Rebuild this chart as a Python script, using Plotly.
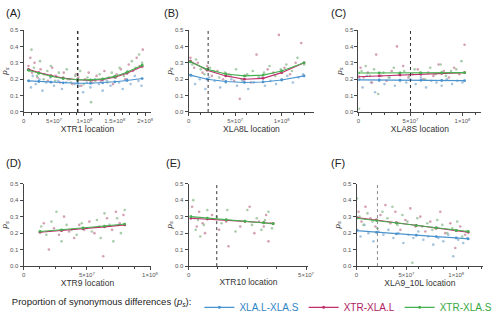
import plotly.graph_objects as go

# ---------------- data (x in Mb) ----------------
A_blue_x = [9, 12, 15, 20, 26, 31, 37, 44, 50, 57, 63, 70, 76, 84, 88, 92, 98, 104, 110, 117, 124, 130, 137, 143, 150, 157, 163, 170, 176, 183, 189, 194]
A_blue_y = [0.19, 0.15, 0.22, 0.17, 0.20, 0.13, 0.18, 0.21, 0.16, 0.19, 0.14, 0.18, 0.20, 0.17, 0.19, 0.16, 0.12, 0.18, 0.15, 0.20, 0.17, 0.13, 0.19, 0.16, 0.21, 0.18, 0.14, 0.20, 0.17, 0.22, 0.19, 0.16]
A_mag_x = [8, 11, 14, 18, 23, 28, 34, 40, 47, 53, 60, 66, 73, 80, 86, 90, 95, 101, 107, 113, 120, 127, 133, 140, 147, 153, 160, 167, 173, 180, 186, 191, 196]
A_mag_y = [0.28, 0.33, 0.24, 0.30, 0.21, 0.26, 0.23, 0.19, 0.27, 0.22, 0.18, 0.24, 0.20, 0.17, 0.23, 0.21, 0.16, 0.20, 0.24, 0.18, 0.22, 0.19, 0.25, 0.21, 0.17, 0.23, 0.26, 0.20, 0.29, 0.25, 0.33, 0.28, 0.38]
A_grn_x = [10, 13, 17, 22, 27, 33, 39, 45, 52, 58, 65, 71, 78, 85, 89, 93, 99, 105, 111, 118, 125, 132, 138, 145, 152, 158, 165, 171, 178, 184, 190, 195]
A_grn_y = [0.25, 0.38, 0.27, 0.22, 0.31, 0.20, 0.25, 0.28, 0.19, 0.24, 0.21, 0.26, 0.18, 0.22, 0.20, 0.25, 0.17, 0.21, 0.06, 0.19, 0.23, 0.20, 0.18, 0.24, 0.21, 0.27, 0.22, 0.25, 0.31, 0.27, 0.35, 0.30]

B_blue_x = [3, 7, 12, 18, 22, 28, 34, 40, 46, 52, 58, 64, 70, 76, 82, 88, 94, 100, 106, 112, 118, 123]
B_blue_y = [0.22, 0.17, 0.20, 0.14, 0.21, 0.19, 0.15, 0.18, 0.20, 0.16, 0.19, 0.14, 0.18, 0.21, 0.16, 0.19, 0.17, 0.20, 0.22, 0.18, 0.21, 0.23]
B_mag_x = [2, 6, 10, 15, 20, 25, 31, 37, 43, 49, 55, 61, 67, 73, 79, 85, 91, 97, 103, 109, 115, 121]
B_mag_y = [0.33, 0.27, 0.30, 0.24, 0.28, 0.22, 0.25, 0.20, 0.23, 0.19, 0.08, 0.22, 0.18, 0.35, 0.21, 0.26, 0.24, 0.47, 0.27, 0.23, 0.30, 0.42]
B_grn_x = [4, 8, 13, 17, 23, 27, 33, 39, 45, 51, 57, 63, 69, 75, 81, 87, 93, 99, 105, 111, 117, 124]
B_grn_y = [0.29, 0.32, 0.26, 0.23, 0.27, 0.25, 0.21, 0.24, 0.22, 0.26, 0.20, 0.23, 0.25, 0.21, 0.24, 0.28, 0.22, 0.26, 0.29, 0.25, 0.33, 0.29]

C_blue_x = [1, 4, 8, 12, 16, 20, 25, 30, 35, 40, 46, 50, 55, 60, 65, 70, 75, 80, 85, 90, 95, 100]
C_blue_y = [0.20, 0.15, 0.22, 0.18, 0.12, 0.19, 0.17, 0.21, 0.16, 0.19, 0.18, 0.20, 0.17, 0.21, 0.15, 0.19, 0.18, 0.16, 0.20, 0.17, 0.19, 0.18]
C_mag_x = [2, 5, 9, 13, 17, 22, 27, 32, 37, 43, 48, 52, 57, 62, 67, 72, 77, 82, 87, 92, 97, 102]
C_mag_y = [0.27, 0.21, 0.24, 0.18, 0.35, 0.22, 0.19, 0.25, 0.40, 0.28, 0.21, 0.23, 0.26, 0.20, 0.24, 0.22, 0.29, 0.25, 0.21, 0.27, 0.23, 0.41]
C_grn_x = [0.5, 3, 7, 11, 15, 19, 24, 29, 34, 39, 44, 49, 54, 59, 64, 69, 74, 79, 84, 89, 94, 99]
C_grn_y = [0.02, 0.25, 0.28, 0.22, 0.26, 0.11, 0.24, 0.21, 0.27, 0.23, 0.25, 0.22, 0.26, 0.24, 0.20, 0.27, 0.23, 0.29, 0.22, 0.25, 0.26, 0.31]

D_mag_x = [13, 16, 20, 24, 28, 32, 36, 40, 44, 48, 52, 56, 60, 63, 66, 70, 73, 76, 79]
D_mag_y = [0.21, 0.26, 0.10, 0.23, 0.19, 0.30, 0.21, 0.17, 0.25, 0.22, 0.27, 0.20, 0.24, 0.06, 0.29, 0.22, 0.33, 0.26, 0.31]
D_grn_x = [14, 18, 22, 26, 30, 34, 38, 42, 46, 50, 54, 58, 61, 64, 68, 71, 74, 77, 80]
D_grn_y = [0.24, 0.19, 0.27, 0.33, 0.15, 0.25, 0.22, 0.19, 0.26, 0.23, 0.21, 0.28, 0.17, 0.32, 0.25, 0.15, 0.29, 0.20, 0.34]

E_mag_x = [1.5, 2.5, 3.5, 4.5, 6, 7, 10, 13, 16, 17, 22, 26, 28, 30, 32, 33, 34, 35]
E_mag_y = [0.36, 0.29, 0.24, 0.33, 0.26, 0.20, 0.31, 0.22, 0.27, 0.12, 0.24, 0.36, 0.20, 0.27, 0.24, 0.31, 0.15, 0.26]
E_grn_x = [1, 2, 3, 4, 5, 6.5, 8, 12, 14, 16.5, 20, 25, 27, 29, 31, 32.5, 34, 35.5]
E_grn_y = [0.30, 0.40, 0.22, 0.28, 0.18, 0.25, 0.34, 0.30, 0.26, 0.34, 0.21, 0.34, 0.25, 0.29, 0.22, 0.28, 0.33, 0.23]

F_blue_x = [1, 4, 8, 12, 17, 22, 27, 32, 37, 42, 47, 52, 57, 62, 67, 72, 77, 82, 87, 92, 97, 102, 107, 111]
F_blue_y = [0.22, 0.18, 0.25, 0.20, 0.15, 0.21, 0.19, 0.22, 0.17, 0.20, 0.14, 0.19, 0.17, 0.21, 0.16, 0.18, 0.13, 0.17, 0.15, 0.19, 0.06, 0.16, 0.14, 0.17]
F_mag_x = [2, 5, 9, 14, 19, 24, 29, 34, 39, 44, 49, 54, 59, 64, 69, 74, 79, 84, 89, 94, 99, 104, 109]
F_mag_y = [0.33, 0.27, 0.36, 0.29, 0.24, 0.31, 0.37, 0.26, 0.33, 0.22, 0.28, 0.35, 0.24, 0.30, 0.21, 0.27, 0.23, 0.33, 0.20, 0.26, 0.11, 0.24, 0.19]
F_grn_x = [0.5, 3, 7, 11, 16, 21, 26, 31, 36, 41, 46, 51, 56, 61, 66, 71, 76, 81, 86, 91, 96, 101, 106, 110]
F_grn_y = [0.41, 0.30, 0.25, 0.32, 0.27, 0.23, 0.33, 0.29, 0.36, 0.25, 0.31, 0.27, 0.02, 0.29, 0.24, 0.26, 0.22, 0.28, 0.25, 0.20, 0.23, 0.27, 0.18, 0.21]

# trend curves
A_fit_x = [8, 25, 45, 65, 89, 110, 130, 150, 170, 195]
A_fit_blue = [0.19, 0.186, 0.182, 0.178, 0.175, 0.175, 0.178, 0.184, 0.192, 0.204]
A_fit_mag = [0.26, 0.24, 0.222, 0.207, 0.197, 0.193, 0.198, 0.212, 0.236, 0.278]
A_fit_grn = [0.255, 0.236, 0.218, 0.204, 0.197, 0.196, 0.202, 0.217, 0.242, 0.285]

B_fit_x = [2, 20, 40, 60, 80, 100, 124]
B_fit_blue = [0.225, 0.2, 0.186, 0.18, 0.183, 0.195, 0.22]
B_fit_mag = [0.31, 0.255, 0.22, 0.2, 0.205, 0.24, 0.30]
B_fit_grn = [0.305, 0.26, 0.232, 0.22, 0.225, 0.25, 0.30]

C_fit_x = [0, 20, 40, 60, 80, 102]
C_fit_blue = [0.196, 0.195, 0.194, 0.193, 0.192, 0.191]
C_fit_mag = [0.215, 0.22, 0.225, 0.23, 0.235, 0.24]
C_fit_grn = [0.238, 0.238, 0.239, 0.239, 0.24, 0.24]

D_fit_x = [13, 30, 47, 64, 80]
D_fit_mag = [0.205, 0.215, 0.226, 0.238, 0.25]
D_fit_grn = [0.21, 0.22, 0.231, 0.243, 0.255]

E_fit_x = [1, 8, 16, 24, 32, 36]
E_fit_mag = [0.29, 0.285, 0.279, 0.271, 0.263, 0.258]
E_fit_grn = [0.30, 0.291, 0.281, 0.272, 0.263, 0.257]

F_fit_x = [0, 20, 40, 60, 80, 100, 112]
F_fit_blue = [0.215, 0.205, 0.196, 0.187, 0.179, 0.171, 0.165]
F_fit_mag = [0.295, 0.28, 0.263, 0.247, 0.231, 0.215, 0.205]
F_fit_grn = [0.29, 0.276, 0.261, 0.246, 0.231, 0.216, 0.21]

centromeres = {"A": 89, "B": 21, "C": 50, "E": 12, "F": 21}

panels = ["A", "B", "C", "D", "E", "F"]
x_titles = ["XTR1 location", "XLA8L location", "XLA8S location",
            "XTR9 location", "XTR10 location", "XLA9_10L location"]
x_ranges = [[0, 210], [0, 135], [0, 118], [0, 101], [0, 51], [0, 127]]
x_tickvals = [[0, 50, 100, 150, 200], [0, 50, 100], [0, 50, 100], [0, 50, 100], [0, 50], [0, 50, 100]]
tick_map = {0: "0", 50: "5×10<sup>7</sup>", 100: "1×10<sup>8</sup>",
            150: "1.5×10<sup>8</sup>", 200: "2×10<sup>8</sup>"}
x_domains = [[0.044, 0.304], [0.38, 0.636], [0.726, 0.976],
             [0.044, 0.304], [0.38, 0.624], [0.722, 0.98]]
y_domains = [[0.6626, 0.9164], [0.6626, 0.9164], [0.6626, 0.9164],
             [0.1854, 0.4407], [0.1854, 0.4407], [0.1854, 0.4407]]

BLUE = "#4a93cf"
MAG = "#bf2f6c"
GRN = "#45b04f"
PT_BLUE = "#8fb4d3"
PT_MAG = "#c9899f"
PT_GRN = "#93bf95"

scatter_data = {
    "A": [(A_blue_x, A_blue_y, PT_BLUE), (A_mag_x, A_mag_y, PT_MAG), (A_grn_x, A_grn_y, PT_GRN)],
    "B": [(B_blue_x, B_blue_y, PT_BLUE), (B_mag_x, B_mag_y, PT_MAG), (B_grn_x, B_grn_y, PT_GRN)],
    "C": [(C_blue_x, C_blue_y, PT_BLUE), (C_mag_x, C_mag_y, PT_MAG), (C_grn_x, C_grn_y, PT_GRN)],
    "D": [(D_mag_x, D_mag_y, PT_MAG), (D_grn_x, D_grn_y, PT_GRN)],
    "E": [(E_mag_x, E_mag_y, PT_MAG), (E_grn_x, E_grn_y, PT_GRN)],
    "F": [(F_blue_x, F_blue_y, PT_BLUE), (F_mag_x, F_mag_y, PT_MAG), (F_grn_x, F_grn_y, PT_GRN)],
}
fit_data = {
    "A": (A_fit_x, [(A_fit_blue, BLUE), (A_fit_mag, MAG), (A_fit_grn, GRN)]),
    "B": (B_fit_x, [(B_fit_blue, BLUE), (B_fit_mag, MAG), (B_fit_grn, GRN)]),
    "C": (C_fit_x, [(C_fit_blue, BLUE), (C_fit_mag, MAG), (C_fit_grn, GRN)]),
    "D": (D_fit_x, [(D_fit_mag, MAG), (D_fit_grn, GRN)]),
    "E": (E_fit_x, [(E_fit_mag, MAG), (E_fit_grn, GRN)]),
    "F": (F_fit_x, [(F_fit_blue, BLUE), (F_fit_mag, MAG), (F_fit_grn, GRN)]),
}
legend_names = [
    "<span style='color:#2f86c6'>XLA.L-XLA.S</span>",
    "<span style='color:#b0205f'>XTR-XLA.L</span>",
    "<span style='color:#36a843'>XTR-XLA.S</span>",
]
legend_colors = [BLUE, MAG, GRN]

FONT = "Arial, Liberation Sans, sans-serif"
fig = go.Figure()
shapes = []
annotations = []

for i, p in enumerate(panels):
    n = i + 1
    xa = "x" if n == 1 else f"x{n}"
    ya = "y" if n == 1 else f"y{n}"
    for (xs, ys, c) in scatter_data[p]:
        fig.add_trace(go.Scatter(x=xs, y=ys, mode="markers", xaxis=xa, yaxis=ya,
                                 marker=dict(size=2.6, color=c, opacity=0.8),
                                 showlegend=False, hoverinfo="skip"))
    fx, fits = fit_data[p]
    for (ys, c) in fits:
        fig.add_trace(go.Scatter(x=fx, y=ys, mode="lines+markers", xaxis=xa, yaxis=ya,
                                 line=dict(color=c, width=1.1),
                                 marker=dict(size=2.8, color=c),
                                 showlegend=False))
    if p in centromeres:
        cx = centromeres[p]
        shapes.append(dict(type="line", xref=xa, yref=ya, x0=cx, x1=cx, y0=0, y1=0.5,
                           line=dict(color="#333" if p != "F" else "#888",
                                     width=1.5 if p == "A" else 1, dash="dot")))
    xkey = "xaxis" if n == 1 else f"xaxis{n}"
    ykey = "yaxis" if n == 1 else f"yaxis{n}"
    fig.update_layout(**{
        xkey: dict(domain=x_domains[i], range=x_ranges[i], anchor=ya,
                   tickvals=x_tickvals[i], ticktext=[tick_map[v] for v in x_tickvals[i]],
                   showline=True, linecolor="#444", linewidth=1, showgrid=False, zeroline=False,
                   ticks="outside", ticklen=3, tickcolor="#444", tickwidth=1,
                   minor=dict(ticks="outside", ticklen=2, dtick=12.5, tickcolor="#444"),
                   tickfont=dict(size=6, color="#555", family=FONT),
                   title=dict(text=x_titles[i], font=dict(size=8.5, color="#333", family=FONT), standoff=1)),
        ykey: dict(domain=y_domains[i], range=[0, 0.5], anchor=xa,
                   tickvals=[0, 0.1, 0.2, 0.3, 0.4, 0.5],
                   ticktext=["0.0", "0.1", "0.2", "0.3", "0.4", "0.5"],
                   showline=True, linecolor="#444", linewidth=1, showgrid=False, zeroline=False,
                   ticks="outside", ticklen=3, tickcolor="#444", tickwidth=1,
                   tickfont=dict(size=6, color="#555", family=FONT),
                   title=dict(text="<i>p<sub>s</sub></i>", font=dict(size=8, color="#333", family=FONT), standoff=1)),
    })

for name, c in zip(legend_names, legend_colors):
    fig.add_trace(go.Scatter(x=[None], y=[None], mode="lines+markers", name=name,
                             line=dict(color=c, width=1.1), marker=dict(size=3, color=c),
                             showlegend=True))

label_pos = [(2, 10), (163, 10), (333, 10), (2, 163), (165, 163), (333, 163)]
for p, (px, py) in zip(panels, label_pos):
    annotations.append(dict(text=f"({p})", xref="paper", yref="paper",
                            x=px / 500, y=1 - py / 329, xanchor="left", yanchor="middle",
                            showarrow=False, font=dict(size=11, color="#222", family=FONT)))

fig.update_layout(
    width=500, height=329,
    margin=dict(l=0, r=0, t=0, b=0),
    paper_bgcolor="white", plot_bgcolor="white",
    shapes=shapes, annotations=annotations,
    showlegend=True,
    legend=dict(orientation="h", x=0.016, y=1 - 310 / 329, xanchor="left", yanchor="middle",
                font=dict(size=10, family=FONT),
                title=dict(text="Proportion of synonymous differences (<i>p<sub>s</sub></i>):",
                           font=dict(size=9.5, color="#222", family=FONT)),
                itemwidth=30, bgcolor="rgba(0,0,0,0)"),
)

fig.write_html("out.html")
